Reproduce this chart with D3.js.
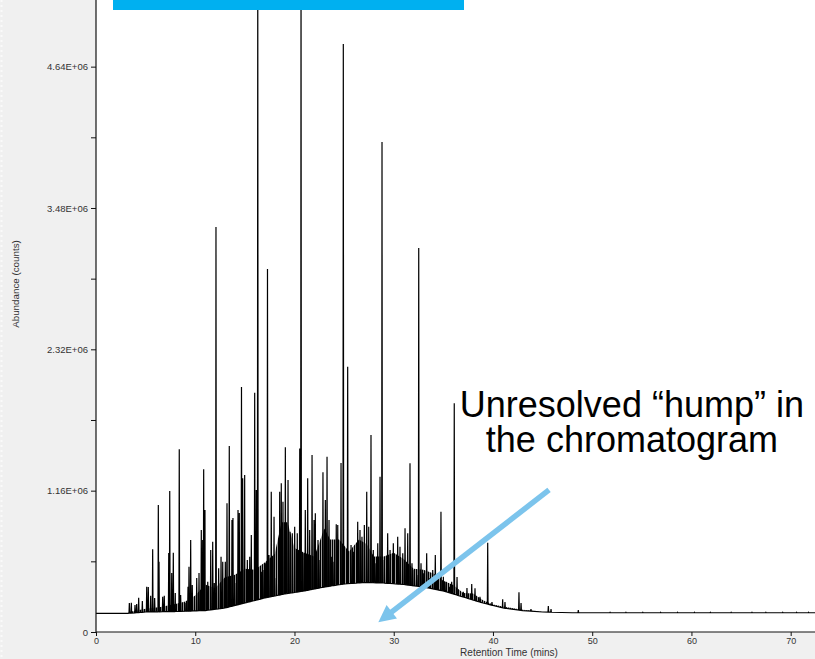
<!DOCTYPE html>
<html>
<head>
<meta charset="utf-8">
<script src="https://cdn.jsdelivr.net/npm/d3@7"></script>
<style>
  html, body { margin: 0; padding: 0; background: #f0f0f0; }
  svg { display: block; }
</style>
</head>
<body>
<svg id="chart" width="815" height="659"></svg>
<script>
// Resolved peaks: retention time (min) and apex abundance (counts)
const peakTimes = [
  3.36, 3.56, 3.93, 4.10, 4.30, 4.67, 5.11, 5.27, 5.51, 5.71, 5.91, 6.28, 6.35, 6.72, 6.88,
  7.33, 7.43, 7.63, 7.79, 7.99, 8.39, 8.53, 8.97, 9.27, 9.37, 9.54, 9.70, 10.15, 10.38, 10.61,
  10.75, 10.85, 10.98, 11.26, 11.56, 11.76, 11.92, 12.09, 12.36, 12.60, 12.77, 13.03, 13.20, 13.43, 13.70,
  13.80, 13.98, 14.31, 14.44, 14.66, 14.78, 14.98, 15.25, 15.49, 15.65, 15.99, 16.15, 16.30, 16.66, 16.83,
  17.06, 17.28, 17.43, 17.66, 17.94, 18.17, 18.51, 18.67, 18.84, 19.08, 19.35, 19.55, 19.78, 20.02, 20.28,
  20.53, 20.66, 20.86, 21.09, 21.33, 21.53, 21.77, 21.97, 22.10, 22.37, 22.57, 22.87, 23.11, 23.28, 23.48,
  23.71, 23.98, 24.21, 24.36, 24.69, 24.92, 25.36, 25.70, 25.93, 26.37, 26.60, 26.80, 27.04, 27.28, 27.48,
  27.71, 27.94, 28.21, 28.39, 28.62, 28.82, 29.05, 29.39, 29.63, 29.96, 30.40, 30.63, 30.91, 31.14, 31.41,
  31.64, 31.84, 32.07, 32.32, 32.52, 32.75, 32.98, 33.32, 33.59, 33.93, 34.19, 34.43, 34.76, 35.00, 35.27,
  35.60, 35.84, 36.10, 36.38, 37.01, 37.38, 37.86, 38.19, 38.69, 39.47, 39.90, 40.98, 41.21, 42.62, 42.83,
  43.83, 45.58, 45.85, 48.60, 51.8, 53.4, 55.1, 56.9, 58.6, 60.3, 61.9, 64.0, 66.1, 67.5, 69.2,
  70.6, 71.8
];
const peakHeights = [
  238e3, 240e3, 222e3, 230e3, 282e3, 254e3, 372e3, 369e3, 298e3, 679e3, 279e3, 1042e3, 577e3, 290e3, 298e3,
  648e3, 1157e3, 484e3, 651e3, 320e3, 1500e3, 304e3, 238e3, 372e3, 536e3, 755e3, 386e3, 443e3, 484e3, 837e3,
  755e3, 1335e3, 1001e3, 413e3, 673e3, 741e3, 402e3, 3324e3, 523e3, 618e3, 577e3, 577e3, 1056e3, 1527e3, 919e3,
  936e3, 402e3, 1001e3, 977e3, 2011e3, 1262e3, 1289e3, 591e3, 618e3, 796e3, 1964e3, 1166e3, 5600e3, 495e3, 509e3,
  564e3, 2979e3, 632e3, 1152e3, 946e3, 443e3, 1152e3, 1221e3, 1070e3, 1516e3, 1248e3, 823e3, 810e3, 864e3, 810e3,
  1507e3, 5500e3, 646e3, 1001e3, 1262e3, 837e3, 1453e3, 919e3, 974e3, 755e3, 591e3, 1311e3, 1083e3, 1439e3, 919e3,
  618e3, 577e3, 884e3, 878e3, 1387e3, 4826e3, 2178e3, 714e3, 659e3, 905e3, 837e3, 782e3, 878e3, 1152e3, 864e3,
  1617e3, 673e3, 564e3, 728e3, 1275e3, 4022e3, 591e3, 810e3, 673e3, 728e3, 782e3, 700e3, 646e3, 851e3, 810e3,
  1385e3, 564e3, 509e3, 468e3, 3152e3, 564e3, 482e3, 646e3, 441e3, 509e3, 632e3, 482e3, 987e3, 454e3, 413e3,
  372e3, 413e3, 1877e3, 451e3, 331e3, 361e3, 394e3, 359e3, 290e3, 733e3, 246e3, 268e3, 246e3, 326e3, 238e3,
  189e3, 213e3, 189e3, 180e3, 162e3, 162e3, 162e3, 162e3, 162e3, 162e3, 162e3, 162e3, 162e3, 162e3, 162e3,
  162e3, 162e3
];

// Lower envelope of the trace (baseline plus unresolved complex mixture)
const humpTimes  = [0, 3.2, 5, 8, 11, 13, 15, 17, 19, 21, 23, 25, 27, 29, 31, 33, 35, 37, 39, 41, 43, 45, 48, 72.45];
const humpLevels = [153e3, 153e3, 164e3, 168e3, 176e3, 197e3, 238e3, 279e3, 312e3, 337e3, 369e3, 394e3, 406e3,
                    402e3, 390e3, 369e3, 337e3, 287e3, 238e3, 197e3, 176e3, 164e3, 158e3, 158e3];

// Top of the dense, unresolved noise band riding on the envelope
const bandTimes  = [3.3, 5, 6.5, 8, 9, 10, 11, 12, 13, 14, 15, 16, 17, 18, 18.7, 19.3, 20, 21, 22, 23, 23.6,
                    24.5, 25.5, 26.5, 27.3, 28, 29, 30, 31, 32, 33, 34, 35, 36, 37, 38, 39, 40, 41, 42, 43, 44, 45, 46.5];
const bandLevels = [165e3, 190e3, 205e3, 230e3, 250e3, 300e3, 390e3, 360e3, 450e3, 470e3, 520e3, 510e3, 570e3,
                    640e3, 900e3, 900e3, 690e3, 650e3, 620e3, 850e3, 760e3, 760e3, 660e3, 760e3, 720e3, 620e3,
                    620e3, 650e3, 600e3, 520e3, 510e3, 480e3, 420e3, 385e3, 320e3, 315e3, 260e3, 225e3, 210e3,
                    195e3, 182e3, 175e3, 165e3, 160e3];

// Axis ticks
const xTicks = [0, 10, 20, 30, 40, 50, 60, 70];
const yTicks = [0, 1.16e6, 2.32e6, 3.48e6, 4.64e6];
const yTickLabels = ["0", "1.16E+06", "2.32E+06", "3.48E+06", "4.64E+06"];
const yMinorTicks = [0.58e6, 1.74e6, 2.90e6, 4.06e6];

// Callout text
const noteLines = ["Unresolved \u201Chump\u201D in", "the chromatogram"];

const W = 815, H = 659;
const plot = { left: 96, right: 815, top: 0, bottom: 632 };

const svg = d3.select("#chart");

const x = d3.scaleLinear().domain([0, 72.45]).range([plot.left, plot.right]);
const y = d3.scaleLinear().domain([0, 5.187e6]).range([plot.bottom, plot.top]);

const defs = svg.append("defs");

// fine vertical hatching that renders the unresolved noise as tightly packed scans
const hatch = defs.append("pattern")
  .attr("id", "scanHatch")
  .attr("patternUnits", "userSpaceOnUse")
  .attr("width", 2).attr("height", 8);
hatch.append("rect").attr("width", 2).attr("height", 8).attr("fill", "#fff");
hatch.append("rect").attr("width", 1.4).attr("height", 8).attr("fill", "#000");

defs.append("clipPath").attr("id", "plotClip")
  .append("rect")
  .attr("x", plot.left).attr("y", plot.top)
  .attr("width", plot.right - plot.left).attr("height", plot.bottom - plot.top);

// background panels
svg.append("rect").attr("width", W).attr("height", H).attr("fill", "#f0f0f0");
svg.append("line")
  .attr("x1", 1.5).attr("x2", 1.5).attr("y1", 0).attr("y2", H)
  .attr("stroke", "#fafafa").attr("stroke-width", 2).attr("stroke-dasharray", "2,3");
svg.append("rect")
  .attr("x", plot.left).attr("y", plot.top)
  .attr("width", plot.right - plot.left).attr("height", plot.bottom - plot.top)
  .attr("fill", "#ffffff");

const traceLayer = svg.append("g").attr("clip-path", "url(#plotClip)");

// envelope as a function of retention time
const base = d3.scaleLinear().domain(humpTimes).range(humpLevels).clamp(true);

// dense noise band between envelope and its ragged top
const bandArea = d3.area()
  .x(d => x(d))
  .y0(d => y(base(d)))
  .y1((d, i) => y(bandLevels[i]));
traceLayer.append("path")
  .attr("d", bandArea(bandTimes))
  .attr("fill", "url(#scanHatch)")
  .attr("stroke", "none");

// trace: envelope vertices plus a narrow spike per resolved peak
const halfWidth = 0.035;
const pts = humpTimes.map(t => [t, base(t)]);
peakTimes.forEach((t, i) => {
  pts.push([t - halfWidth, base(t - halfWidth)], [t, peakHeights[i]], [t + halfWidth, base(t + halfWidth)]);
});
pts.sort((a, b) => a[0] - b[0]);

const line = d3.line().x(d => x(d[0])).y(d => y(d[1]));

traceLayer.append("path")
  .datum(pts)
  .attr("d", line)
  .attr("fill", "none")
  .attr("stroke", "#000")
  .attr("stroke-width", 1.2)
  .attr("stroke-linejoin", "miter");

// axes
const axisFont = "'Liberation Sans', Arial, sans-serif";

const yAxis = d3.axisLeft(y)
  .tickValues(yTicks)
  .tickSize(5)
  .tickPadding(3)
  .tickFormat((d, i) => yTickLabels[i]);
const gy = svg.append("g").attr("transform", `translate(${plot.left},0)`).call(yAxis);

const yMinor = d3.axisLeft(y).tickValues(yMinorTicks).tickSize(5).tickFormat("");
const gym = svg.append("g").attr("transform", `translate(${plot.left},0)`).call(yMinor);
gym.select(".domain").remove();

const xAxis = d3.axisBottom(x).tickValues(xTicks).tickSize(4).tickPadding(2).tickFormat(d3.format("d"));
const gx = svg.append("g").attr("transform", `translate(0,${plot.bottom})`).call(xAxis);

[gy, gym, gx].forEach(g => {
  g.selectAll(".domain").attr("stroke", "#111").attr("stroke-width", 1.2);
  g.selectAll(".tick line").attr("stroke", "#111");
  g.selectAll(".tick text")
    .attr("font-family", axisFont)
    .attr("font-size", "9.5px")
    .attr("fill", "#333");
});
gx.selectAll(".tick text").attr("font-size", "9px");
gy.select(".domain").attr("d", `M0,${plot.top}V${plot.bottom}`);
gx.select(".domain").attr("d", `M${plot.left},0H${plot.right}`);

// axis titles
svg.append("text")
  .attr("transform", `translate(19,${284}) rotate(-90)`)
  .attr("text-anchor", "middle")
  .attr("font-family", axisFont)
  .attr("font-size", "9.8px")
  .attr("fill", "#333")
  .text("Abundance (counts)");

svg.append("text")
  .attr("x", 509).attr("y", 655.5)
  .attr("text-anchor", "middle")
  .attr("font-family", axisFont)
  .attr("font-size", "10px")
  .attr("fill", "#333")
  .text("Retention Time (mins)");

// title banner strip
svg.append("rect")
  .attr("x", 113).attr("y", 0).attr("width", 351).attr("height", 10)
  .attr("fill", "#00b0f0");

// callout text
const noteX = x(54.0);
svg.append("g").selectAll("text")
  .data(noteLines)
  .join("text")
  .attr("x", noteX)
  .attr("y", (d, i) => i === 0 ? y(1.765e6) : y(1.476e6))
  .attr("text-anchor", "middle")
  .attr("font-family", "'Liberation Sans', Arial, sans-serif")
  .attr("font-size", "36px")
  .attr("fill", "#000")
  .text(d => d);

// callout arrow pointing at the hump
const ax0 = x(45.65), ay0 = y(1.166e6);
const ax1 = x(28.45), ay1 = y(0.080e6);
const ang = Math.atan2(ay1 - ay0, ax1 - ax0);
const headLen = 17, headHalf = 8.5;
const bx = ax1 - headLen * Math.cos(ang), by = ay1 - headLen * Math.sin(ang);
const arrowColor = "#7cc4ec";
svg.append("line")
  .attr("x1", ax0).attr("y1", ay0).attr("x2", bx + 2 * Math.cos(ang)).attr("y2", by + 2 * Math.sin(ang))
  .attr("stroke", arrowColor).attr("stroke-width", 5.5);
svg.append("path")
  .attr("d", d3.line()([
    [ax1, ay1],
    [bx - headHalf * Math.sin(ang), by + headHalf * Math.cos(ang)],
    [bx + headHalf * Math.sin(ang), by - headHalf * Math.cos(ang)]
  ]) + "Z")
  .attr("fill", arrowColor);
</script>
</body>
</html>
